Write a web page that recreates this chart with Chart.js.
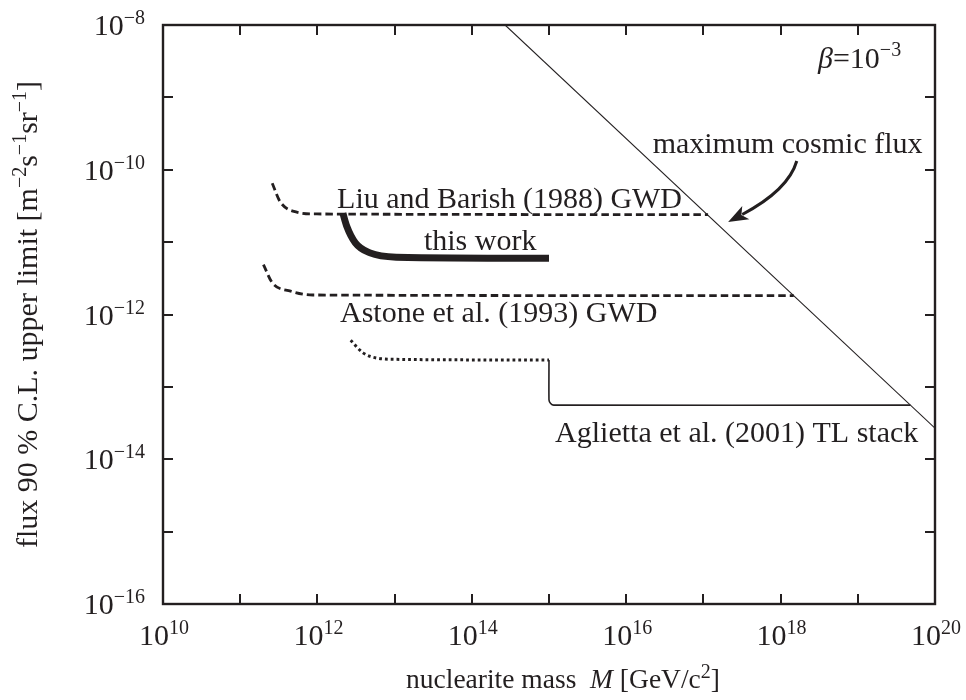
<!DOCTYPE html>
<html lang="en">
<head>
<meta charset="UTF-8">
<title>Nuclearite flux limits</title>
<script src="https://cdn.jsdelivr.net/npm/chart.js"></script>
<style>
  body { margin: 0; background: #fff; }
</style>
</head>
<body>
<canvas id="chartFlux" width="966" height="700"></canvas>
<script>
// values: nuclearite mass M [GeV/c^2] and flux limit [m^-2 s^-1 sr^-1]
const cosmicMass = [2.7e14, 1e20];
const cosmicFlux = [1e-8, 2.69e-14];

const liuMass = [2.6e11, 3.3e11, 5.4e11, 9.8e11, 1.15e17];
const liuFlux = [6.5e-11, 3.6e-11, 2.6e-11, 2.45e-11, 2.4e-11];

const astoneMass = [2.0e11, 2.6e11, 4.5e11, 8.7e11, 1.48e18];
const astoneFlux = [4.9e-12, 2.75e-12, 2.1e-12, 1.86e-12, 1.82e-12];

const thisWorkMass = [2.14e12, 2.4e12, 3.1e12, 4.8e12, 1.05e13, 1e15];
const thisWorkFlux = [2.5e-11, 1.66e-11, 9.8e-12, 7.1e-12, 6.2e-12, 6.0e-12];

const agliettaDotMass = [2.7e12, 3.9e12, 5.9e12, 1.07e13, 1e15];
const agliettaDotFlux = [4.4e-13, 2.95e-13, 2.5e-13, 2.4e-13, 2.35e-13];
const agliettaMass = [1e15, 1e15, 1.05e15, 1.15e15, 4.8e19];
const agliettaFlux = [2.35e-13, 6.6e-14, 5.9e-14, 5.6e-14, 5.6e-14];

const xTickPowers = [10, 12, 14, 16, 18, 20];
const yTickPowers = [-16, -14, -12, -10, -8];

const ink = '#231f20';
const serif = '"Liberation Serif", "Times New Roman", serif';

function pts(xs, ys) {
  return xs.map((v, i) => ({ x: v, y: ys[i] }));
}

// draw a row of text pieces (normal, italic, superscript) starting at x
function drawRuns(ctx, runs, x, y, align) {
  let total = 0;
  runs.forEach(r => { ctx.font = r.font; r.w = ctx.measureText(r.t).width; total += r.w; });
  let cx = align === 'center' ? x - total / 2 : align === 'right' ? x - total : x;
  ctx.textAlign = 'left';
  ctx.textBaseline = 'alphabetic';
  runs.forEach(r => {
    ctx.font = r.font;
    ctx.fillText(r.t, cx, y - (r.dy || 0));
    cx += r.w;
  });
}

const big = '30px ' + serif;
const small = '20px ' + serif;
const note = '30px ' + serif;
const xTitle = '27.5px ' + serif;

function pow10(exp) {
  return [
    { t: '10', font: big },
    { t: String(exp).replace('-', '\u2212'), font: small, dy: 11 }
  ];
}

const framePlugin = {
  id: 'framePlugin',
  afterDraw(chart) {
    const { ctx, chartArea: a, scales: { x, y } } = chart;
    ctx.save();
    ctx.strokeStyle = ink;
    ctx.fillStyle = ink;

    ctx.lineWidth = 2.4;
    ctx.strokeRect(a.left, a.top, a.right - a.left, a.bottom - a.top);

    // inward ticks at every decade, all four sides
    ctx.lineWidth = 2;
    ctx.beginPath();
    for (let e = 11; e < 20; e++) {
      const px = Math.round(x.getPixelForValue(Math.pow(10, e)));
      ctx.moveTo(px, a.bottom); ctx.lineTo(px, a.bottom - 10);
      ctx.moveTo(px, a.top); ctx.lineTo(px, a.top + 10);
    }
    for (let e = -15; e < -8; e++) {
      const py = Math.round(y.getPixelForValue(Math.pow(10, e)));
      ctx.moveTo(a.left, py); ctx.lineTo(a.left + 10, py);
      ctx.moveTo(a.right, py); ctx.lineTo(a.right - 10, py);
    }
    ctx.stroke();

    // tick labels
    xTickPowers.forEach(e => {
      const px = x.getPixelForValue(Math.pow(10, e));
      drawRuns(ctx, pow10(e), px + 1, a.bottom + 41, 'center');
    });
    yTickPowers.forEach(e => {
      const py = y.getPixelForValue(Math.pow(10, e));
      drawRuns(ctx, pow10(e), a.left - 18, py + 10, 'right');
    });

    // axis titles
    drawRuns(ctx, [
      { t: 'nuclearite mass  ', font: xTitle },
      { t: 'M', font: 'italic ' + xTitle },
      { t: ' [GeV/c', font: xTitle },
      { t: '2', font: small, dy: 10 },
      { t: ']', font: xTitle }
    ], 563, 688, 'center');

    ctx.save();
    ctx.translate(37, (a.top + a.bottom) / 2);
    ctx.rotate(-Math.PI / 2);
    drawRuns(ctx, [
      { t: 'flux 90 % C.L. upper limit [m', font: big },
      { t: '\u22122', font: small, dy: 11 },
      { t: 's', font: big },
      { t: '\u22121', font: small, dy: 11 },
      { t: 'sr', font: big },
      { t: '\u22121', font: small, dy: 11 },
      { t: ']', font: big }
    ], 0, 0, 'center');
    ctx.restore();

    // curve labels, anchored in data space
    const at = (m, f) => [x.getPixelForValue(m), y.getPixelForValue(f)];
    let p;
    p = at(1.8e12, 2.96e-11);
    drawRuns(ctx, [{ t: 'Liu and Barish (1988) GWD', font: note }], p[0], p[1], 'left');
    p = at(2.4e13, 7.8e-12);
    drawRuns(ctx, [{ t: 'this work', font: note }], p[0], p[1], 'left');
    p = at(1.96e12, 7.9e-13);
    drawRuns(ctx, [{ t: 'Astone et al. (1993) GWD', font: note }], p[0], p[1], 'left');
    p = at(1.2e15, 1.74e-14);
    drawRuns(ctx, [{ t: 'Aglietta et al. (2001) TL stack', font: note }], p[0], p[1], 'left');
    p = at(2.2e16, 1.7e-10);
    drawRuns(ctx, [{ t: 'maximum cosmic flux', font: note }], p[0], p[1], 'left');
    p = at(3.05e18, 2.55e-9);
    drawRuns(ctx, [
      { t: '\u03b2', font: 'italic ' + note },
      { t: '=10', font: note },
      { t: '\u22123', font: small, dy: 12 }
    ], p[0], p[1], 'left');

    // arrow towards the maximum cosmic flux line
    const s = at(1.62e18, 1.32e-10);
    const c = at(1.26e18, 5.25e-11);
    const t = at(2.09e17, 1.9e-11);
    const dx = t[0] - c[0], dy = t[1] - c[1];
    const len = Math.hypot(dx, dy);
    const ux = dx / len, uy = dy / len;
    const headLen = 20, headW = 7.5;
    const bx = t[0] - ux * headLen, by = t[1] - uy * headLen;
    ctx.lineWidth = 3;
    ctx.beginPath();
    ctx.moveTo(s[0], s[1]);
    ctx.quadraticCurveTo(c[0], c[1], bx + ux * 4, by + uy * 4);
    ctx.stroke();
    ctx.beginPath();
    ctx.moveTo(t[0], t[1]);
    ctx.lineTo(bx - uy * headW, by + ux * headW);
    ctx.lineTo(bx + ux * 5, by + uy * 5);
    ctx.lineTo(bx + uy * headW, by - ux * headW);
    ctx.closePath();
    ctx.fill();

    ctx.restore();
  }
};

const ctx = document.getElementById('chartFlux').getContext('2d');
new Chart(ctx, {
  type: 'line',
  data: {
    datasets: [
      {
        label: 'maximum cosmic flux',
        data: pts(cosmicMass, cosmicFlux),
        borderColor: ink, borderWidth: 1.1, pointRadius: 0, tension: 0
      },
      {
        label: 'Liu and Barish (1988) GWD',
        data: pts(liuMass, liuFlux),
        borderColor: ink, borderWidth: 2.8, borderDash: [7.5, 4], pointRadius: 0,
        cubicInterpolationMode: 'monotone'
      },
      {
        label: 'Astone et al. (1993) GWD',
        data: pts(astoneMass, astoneFlux),
        borderColor: ink, borderWidth: 2.8, borderDash: [7.5, 4], pointRadius: 0,
        cubicInterpolationMode: 'monotone'
      },
      {
        label: 'this work',
        data: pts(thisWorkMass, thisWorkFlux),
        borderColor: ink, borderWidth: 7, pointRadius: 0,
        cubicInterpolationMode: 'monotone', borderCapStyle: 'butt'
      },
      {
        label: 'Aglietta et al. (2001) TL stack',
        data: pts(agliettaDotMass, agliettaDotFlux),
        borderColor: ink, borderWidth: 3, borderDash: [2.8, 3], pointRadius: 0,
        cubicInterpolationMode: 'monotone'
      },
      {
        label: 'Aglietta et al. (2001) TL stack, solid part',
        data: pts(agliettaMass, agliettaFlux),
        borderColor: ink, borderWidth: 1.6, pointRadius: 0, tension: 0.15
      }
    ]
  },
  options: {
    responsive: false,
    animation: false,
    devicePixelRatio: 1,
    layout: { padding: { left: 163, right: 31, top: 25, bottom: 96 } },
    plugins: { legend: { display: false }, tooltip: { enabled: false } },
    scales: {
      x: { type: 'logarithmic', min: 1e10, max: 1e20, display: false },
      y: { type: 'logarithmic', min: 1e-16, max: 1e-8, display: false }
    }
  },
  plugins: [framePlugin]
});
</script>
</body>
</html>
